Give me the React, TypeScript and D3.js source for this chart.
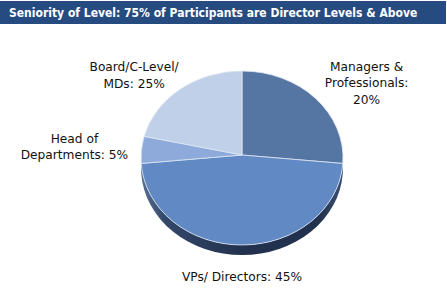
import React from "react";
import * as d3 from "d3";

const TITLE = "Seniority of Level: 75% of Participants are Director Levels & Above";
const categories = ["Managers & Professionals", "VPs/ Directors", "Head of Departments", "Board/C-Level/MDs"];
// shares as drawn in the picture (slice sizes)
const values = [26, 48, 5, 21];
// label texts as printed
const labelLines = [
  ["Managers &", "Professionals:", "20%"],
  ["VPs/ Directors: 45%"],
  ["Head of", "Departments: 5%"],
  ["Board/C-Level/", "MDs: 25%"],
];
const colors = ["#5575a2", "#6189c3", "#8eaadb", "#c0d0e9"];

// layout (not data)
const W = 447, H = 294;
const cx = 242, cy = 158, rx = 101, ry = 87, depth = 10;
const jx = 242, jy = 155;
const labelOffsets: [number, number][] = [
  [51, -15],
  [0, 22],
  [-67, -3],
  [-46, -14],
];

function pt(a: number, dy = 0): [number, number] {
  return [cx + rx * Math.sin(a), cy - ry * Math.cos(a) + dy];
}

export default function App() {
  const pie = d3.pie<number>().sort(null).value((d) => d).startAngle(0).endAngle(2 * Math.PI);
  const arcs = pie(values);
  const lineH = 16.5;

  const tops = arcs.map((a, i) => {
    const p0 = pt(a.startAngle), p1 = pt(a.endAngle);
    const large = a.endAngle - a.startAngle > Math.PI ? 1 : 0;
    const d = `M${jx},${jy}L${p0[0]},${p0[1]}A${rx},${ry} 0 ${large} 1 ${p1[0]},${p1[1]}Z`;
    return <path key={i} d={d} fill={colors[i]} stroke="#dde6f3" strokeWidth={0.8} strokeLinejoin="round" />;
  });

  const sides = arcs.map((a, i) => {
    const s = Math.max(a.startAngle, Math.PI / 2), e = Math.min(a.endAngle, (3 * Math.PI) / 2);
    if (e <= s) return null;
    const ps = pt(s), pe = pt(e), pe2 = pt(e, depth), ps2 = pt(s, depth);
    const d = `M${ps[0]},${ps[1]}A${rx},${ry} 0 0 1 ${pe[0]},${pe[1]}L${pe2[0]},${pe2[1]}A${rx},${ry} 0 0 0 ${ps2[0]},${ps2[1]}Z`;
    return <path key={i} d={d} fill="url(#sideGrad)" />;
  });

  const labels = arcs.map((a, i) => {
    const mid = (a.startAngle + a.endAngle) / 2;
    const extra = Math.cos(mid) < -0.5 ? depth : 0;
    const [ex, ey] = pt(mid, extra);
    const lx = ex + labelOffsets[i][0];
    const ly = ey + labelOffsets[i][1];
    const lines = labelLines[i];
    const top = ly - ((lines.length - 1) * lineH) / 2;
    return (
      <text key={i} x={lx} textAnchor="middle" fontFamily="DejaVu Sans, Verdana, sans-serif" fontSize={12.2} fill="#111">
        {lines.map((l, j) => (
          <tspan key={j} x={lx} y={top + j * lineH + 4}>{l}</tspan>
        ))}
      </text>
    );
  });

  return (
    <svg width={W} height={H} style={{ position: "fixed", left: 0, top: 0, background: "#fff" }} aria-label={categories.join(", ")}>
      <defs>
        <linearGradient id="sideGrad" gradientUnits="userSpaceOnUse" x1={cx - rx} x2={cx + rx} y1={0} y2={0}>
          <stop offset="0" stopColor="#5a6f93" />
          <stop offset="0.12" stopColor="#33476a" />
          <stop offset="0.5" stopColor="#22324e" />
          <stop offset="0.88" stopColor="#22324e" />
          <stop offset="1" stopColor="#3d5275" />
        </linearGradient>
      </defs>
      <rect x={0} y={1} width={446} height={23} fill="#264b80" />
      <text x={9} y={17} fill="#fff" fontFamily="DejaVu Sans Condensed, sans-serif" fontWeight="bold" fontSize={12}>{TITLE}</text>
      {sides}
      {tops}
      {labels}
    </svg>
  );
}
